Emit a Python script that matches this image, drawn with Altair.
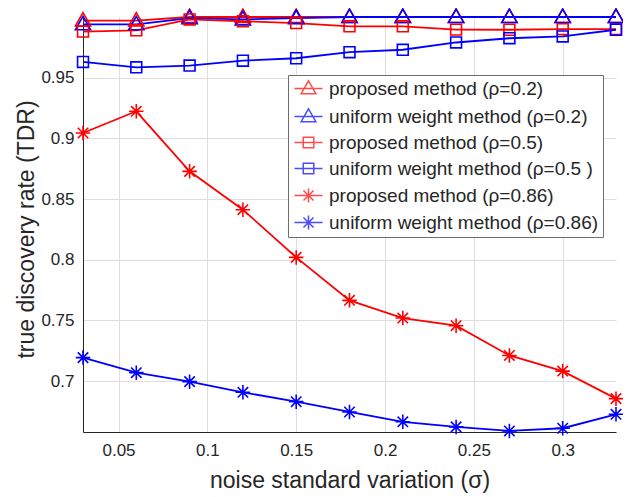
import altair as alt
import pandas as pd

sigma = [0.03, 0.06, 0.09, 0.12, 0.15, 0.18, 0.21, 0.24, 0.27, 0.30, 0.33]

series_names = [
    "proposed method (ρ=0.2)",
    "uniform weight method (ρ=0.2)",
    "proposed method (ρ=0.5)",
    "uniform weight method (ρ=0.5 )",
    "proposed method (ρ=0.86)",
    "uniform weight method (ρ=0.86)",
]
series_colors = ["#ff0000", "#0000ff", "#ff0000", "#0000ff", "#ff0000", "#0000ff"]

prop_02 = [0.997, 0.997, 1.0, 1.0, 1.0, 1.0, 1.0, 1.0, 1.0, 1.0, 1.0]
unif_02 = [0.994, 0.994, 0.999, 0.998, 0.999, 1.0, 1.0, 1.0, 1.0, 1.0, 1.0]
prop_05 = [0.988, 0.989, 0.998, 0.9965, 0.995, 0.9923, 0.9923, 0.9896, 0.9895, 0.990, 0.990]
unif_05 = [0.963, 0.9585, 0.960, 0.964, 0.966, 0.971, 0.973, 0.979, 0.9825, 0.984, 0.9895]
prop_086 = [0.9044, 0.9223, 0.8728, 0.8412, 0.8019, 0.7665, 0.7519, 0.7456, 0.7211, 0.7082, 0.6855]
unif_086 = [0.7193, 0.7069, 0.6995, 0.6907, 0.683, 0.6745, 0.6664, 0.6622, 0.6589, 0.6611, 0.6726]

x_ticks = [0.05, 0.1, 0.15, 0.2, 0.25, 0.3]
y_ticks = [0.7, 0.75, 0.8, 0.85, 0.9, 0.95]

tri = "M0,-1.1L1.05,0.75L-1.05,0.75Z"
sq = "M-0.75,-0.75L0.75,-0.75L0.75,0.75L-0.75,0.75Z"
star = "M0,-1L0,1M-1,0L1,0M-0.72,-0.72L0.72,0.72M-0.72,0.72L0.72,-0.72"
marker_paths = [tri, tri, sq, sq, star, star]
legend_paths = ["M-2,0L2,0" + p for p in marker_paths]

all_values = [prop_02, unif_02, prop_05, unif_05, prop_086, unif_086]
rows = []
for name, vals in zip(series_names, all_values):
    for s, v in zip(sigma, vals):
        rows.append({"sigma": s, "tdr": v, "series": name, "leg": name})
df = pd.DataFrame(rows)

FONT = "Liberation Sans"
TXT = "#262626"

x_enc = alt.X(
    "sigma:Q",
    scale=alt.Scale(domain=[0.03, 0.33], nice=False, zero=False),
    axis=alt.Axis(
        values=x_ticks, format=".2~f", title="noise standard variation (σ)",
        ticks=False, labelPadding=10, labelFontSize=17, labelFont=FONT, labelColor=TXT,
        titleFont=FONT, titleFontSize=23, titleFontWeight="normal", titleColor=TXT,
        titleX=266.5, titleY=48, titleBaseline="middle", titleAlign="center",
        domainColor=TXT, gridColor="#dedede", labelFlush=False,
    ),
)
y_enc = alt.Y(
    "tdr:Q",
    scale=alt.Scale(domain=[0.658, 1.0], nice=False, zero=False),
    axis=alt.Axis(
        values=y_ticks, format=".2~f", title="true discovery rate (TDR)",
        ticks=False, labelPadding=9, labelFontSize=17, labelFont=FONT, labelColor=TXT,
        titleFont=FONT, titleFontSize=23, titleFontWeight="normal", titleColor=TXT,
        titleX=-57, titleY=212, titleBaseline="middle", titleAlign="center", titleAngle=-90,
        domainColor=TXT, gridColor="#dedede", labelFlush=False,
    ),
)

color_plot = alt.Color("series:N", scale=alt.Scale(domain=series_names, range=series_colors), legend=None)

base = alt.Chart(df)

lines = base.mark_line(strokeWidth=1.8).encode(
    x=x_enc, y=y_enc, color=color_plot, detail="series:N"
)
points = base.mark_point(filled=False, size=210, strokeWidth=1.6, opacity=1).encode(
    x="sigma:Q", y="tdr:Q", color=color_plot,
    shape=alt.Shape("series:N", scale=alt.Scale(domain=series_names, range=marker_paths), legend=None),
)
legend_layer = base.transform_filter("false").mark_point(filled=False, strokeWidth=1.5).encode(
    x="sigma:Q", y="tdr:Q",
    color=alt.Color("leg:N", scale=alt.Scale(domain=series_names, range=series_colors)),
    shape=alt.Shape(
        "leg:N",
        scale=alt.Scale(domain=series_names, range=legend_paths),
        legend=alt.Legend(
            title=None, orient="none", legendX=205, legendY=58,
            labelFont=FONT, labelFontSize=19, labelColor=TXT, labelLimit=500,
            symbolSize=196, symbolStrokeWidth=1.5, symbolOffset=7, labelOffset=11,
            padding=4, rowPadding=6, strokeColor="#6e6e6e", fillColor="white",
        ),
    ),
)

chart = (
    alt.layer(lines, points, legend_layer)
    .resolve_scale(color="independent", shape="independent")
    .properties(
        width=533, height=415,
        autosize=alt.AutoSizeParams(type="none"),
        padding={"left": 75, "top": 9, "right": 7, "bottom": 62},
        background="white",
    )
    .configure_view(strokeWidth=0)
)

chart.save("out.html", embed_options={"renderer": "svg", "actions": False})
